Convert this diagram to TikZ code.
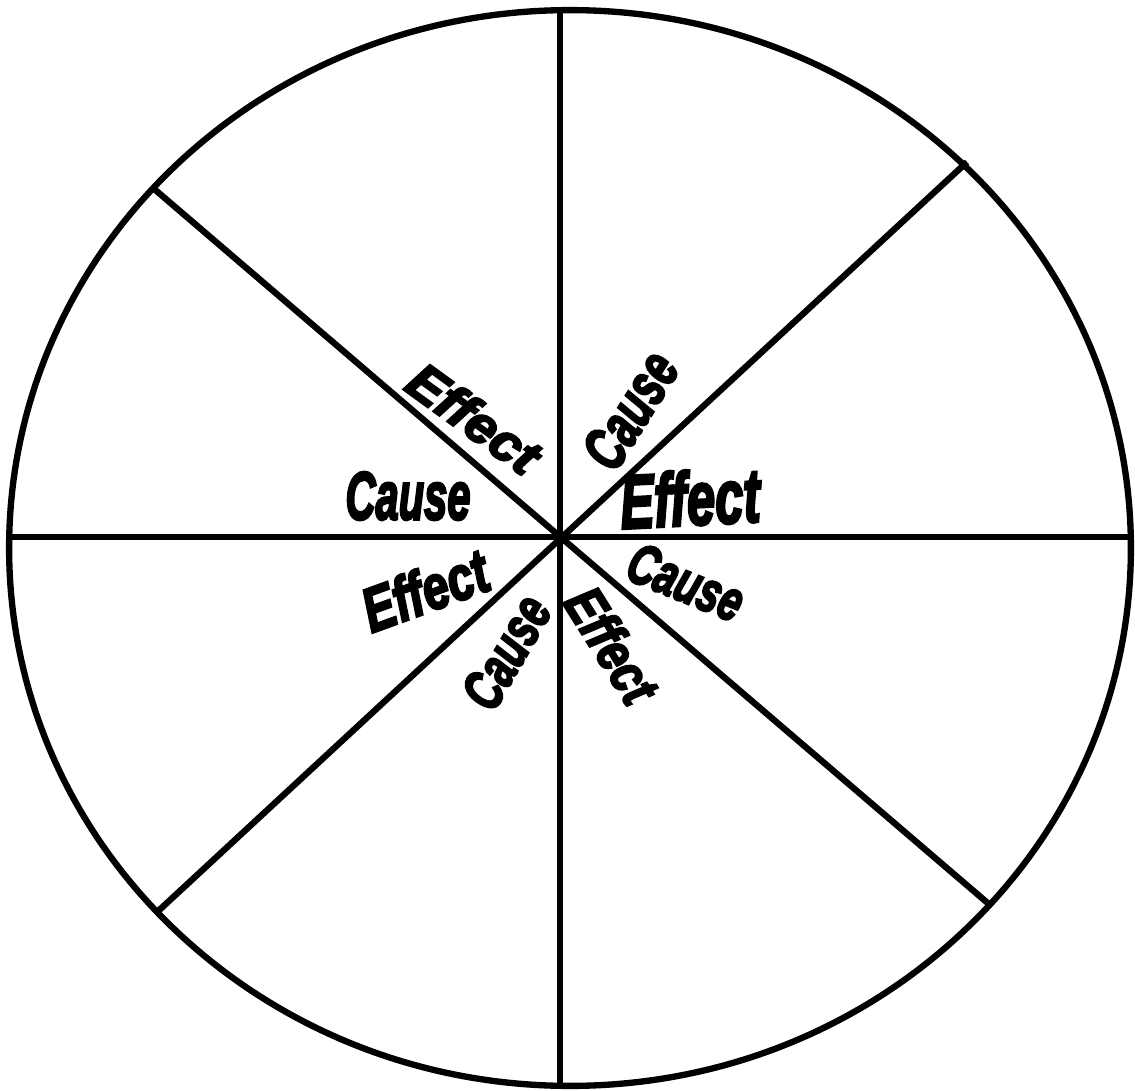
\documentclass[tikz,border=0pt]{standalone}
\usepackage{fontspec}
\newfontfamily\wafont[FakeBold=4]{Liberation Sans Bold Italic}
\usepackage{graphicx}
\begin{document}
\begin{tikzpicture}[x=0.02cm,y=-0.02cm,
  rim/.style={line width=3.6pt,black},
  spoke/.style={line width=3.6pt,black,line cap=butt},
  wa/.style={inner sep=0pt,outer sep=0pt,anchor=center}]
\useasboundingbox (0,0) rectangle (1135,1091);
% outer ellipse
\draw[rim] (570,548) ellipse [x radius=11.22cm, y radius=10.76cm];
% spoke end points
\coordinate (T) at (560,10);
\coordinate (B) at (560,1086);
\coordinate (L) at (9,537);
\coordinate (R) at (1131,537);
\coordinate (TL) at (153,188);
\coordinate (BR) at (990,905);
\coordinate (TR) at (967,162);
\coordinate (BL) at (155,914);
\draw[spoke] (T) -- (B);
\draw[spoke] (L) -- (R);
\draw[spoke] (TL) -- (BR);
\draw[spoke] (TR) -- (BL);
% labels
\newcommand\wabox[3]{\resizebox{#1}{#2}{\wafont #3}}
\node[wa,rotate=-36] (e1) at (474,418) {\wabox{3.0cm}{0.75cm}{Effect}};
\node[wa] (c2) at (408,496) {\wabox{2.5cm}{0.95cm}{Cause}};
\node[wa,rotate=58] (c3) at (630,410) {\wabox{2.5cm}{0.85cm}{Cause}};
\node[wa,rotate=3] (e4) at (690,498) {\wabox{2.8cm}{1.1cm}{Effect}};
\node[wa,rotate=20] (e5) at (425,590) {\wabox{2.6cm}{0.9cm}{Effect}};
\node[wa,rotate=60] (c6) at (506,652) {\wabox{2.4cm}{0.8cm}{Cause}};
\node[wa,rotate=-22] (c7) at (686,582) {\wabox{2.4cm}{0.8cm}{Cause}};
\node[wa,rotate=-58] (e8) at (612,645) {\wabox{2.5cm}{0.8cm}{Effect}};
\end{tikzpicture}
\end{document}
